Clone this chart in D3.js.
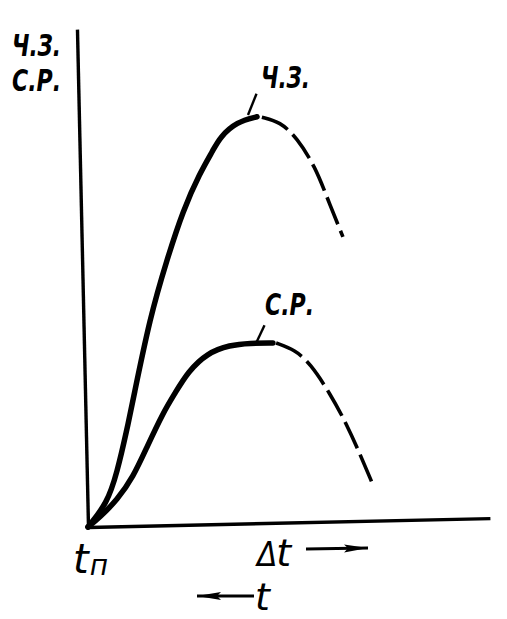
<!DOCTYPE html>
<html>
<head>
<meta charset="utf-8">
<script src="https://cdn.jsdelivr.net/npm/d3@7"></script>
<style>
  body { margin: 0; background: #fff; }
  text { fill: #000; }
</style>
</head>
<body>
<div id="chart"></div>
<script>
// Ч.З. and С.Р. versus time after t_п (arbitrary units)
const chzSolid = [[0, 0], [4.9, 4.7], [7.5, 10.7], [10.2, 19.3], [11.9, 25.3], [16.6, 41.9], [21.1, 53.3],
                  [25.4, 63.2], [29.8, 70.6], [33.2, 75.1], [35.0, 77.7], [39.3, 80.7], [44.3, 81.6]];
const chzDashed = [[45.5, 81.5], [50.0, 80.5], [54.1, 77.2], [58.5, 71.3], [61.3, 65.0], [65.0, 57.1]];
const srSolid = [[0, 0], [3.0, 1.9], [7.4, 5.3], [11.5, 9.8], [15.1, 15.8], [19.3, 22.6], [22.4, 26.5],
                 [25.7, 30.7], [30.6, 34.4], [36.3, 35.9], [41.3, 36.2], [47.0, 36.1]];
const srDashed = [[47.8, 36.1], [52.5, 34.6], [56.1, 31.9], [60.9, 25.8], [65.0, 19.3], [68.1, 13.3], [70.9, 7.6]];
const axisLabels = ["Ч.З.", "С.Р."];

const width = 507, height = 619;
const origin = {x: 88, y: 527};

const svg = d3.select("#chart").append("svg")
    .attr("width", width)
    .attr("height", height);
svg.append("rect").attr("width", width).attr("height", height).attr("fill", "#fff");

// the scan is tilted a little, so the plot frame is rotated round the origin
const g = svg.append("g")
    .attr("transform", "translate(" + origin.x + "," + origin.y + ") rotate(-1.27)");

const x = d3.scaleLinear().domain([0, 100]).range([0, 402]);
const y = d3.scaleLinear().domain([0, 100]).range([0, -498]);

// axes: only the domain lines, no ticks
g.append("g")
    .call(d3.axisBottom(x).ticks(0).tickSizeOuter(0))
    .call(a => a.select(".domain").attr("stroke", "#000").attr("stroke-width", 3.4));
g.append("g")
    .call(d3.axisLeft(y).ticks(0).tickSizeOuter(0))
    .call(a => a.select(".domain").attr("stroke", "#000").attr("stroke-width", 3.4));

// basis smooths out the reading noise of the hand-drawn curves
const line = d3.line()
    .x(d => x(d[0]))
    .y(d => y(d[1]))
    .curve(d3.curveBasis);

function drawCurve(data, solid) {
    g.append("path").datum(data).attr("d", line)
        .attr("fill", "none").attr("stroke", "#000")
        .attr("stroke-width", solid ? 5.5 : 3.6)
        .attr("stroke-linecap", solid ? "round" : "butt")
        .attr("stroke-dasharray", solid ? null : "29,7");
}
drawCurve(chzSolid, true);
drawCurve(chzDashed, false);
drawCurve(srSolid, true);
drawCurve(srDashed, false);

// leader lines to the curve labels, anchored on the end of the solid part
function leader(pt, x1, y1, x2, y2) {
    g.append("line")
        .attr("x1", x(pt[0]) + x1).attr("y1", y(pt[1]) + y1)
        .attr("x2", x(pt[0]) + x2).attr("y2", y(pt[1]) + y2)
        .attr("stroke", "#000").attr("stroke-width", 2.4);
}
leader(chzSolid[chzSolid.length - 1], -9, -2, 0, -23);
leader(srSolid[srSolid.length - 1], -16, -2, -8, -18);

const labelFont = "'DejaVu Sans Condensed', 'DejaVu Sans', sans-serif";
function label(txt, tx, ty) {
    svg.append("text")
        .attr("x", tx).attr("y", ty)
        .attr("font-family", labelFont)
        .attr("font-style", "italic")
        .attr("font-weight", "bold")
        .attr("font-size", 31)
        .attr("textLength", 49)
        .attr("lengthAdjust", "spacingAndGlyphs")
        .text(txt);
}
// y axis title, two lines
label(axisLabels[0], 12, 56);
label(axisLabels[1], 12, 91);
// curve labels
label(axisLabels[0], 261, 88);
label(axisLabels[1], 265, 315);

// time labels under the x axis
const tFont = "'DejaVu Sans', sans-serif";
const tn = svg.append("text").attr("x", 73).attr("y", 573)
    .attr("font-family", tFont).attr("font-style", "italic").attr("font-size", 40);
tn.append("tspan").text("t");
tn.append("tspan").attr("font-size", 28).attr("dy", 2).attr("dx", 1).text("п");

const dt = svg.append("text").attr("x", 257).attr("y", 566)
    .attr("font-family", tFont).attr("font-style", "italic").attr("font-size", 38);
dt.append("tspan").attr("font-family", "'DejaVu Sans Condensed', sans-serif")
    .attr("font-size", 33).text("Δ");
dt.append("tspan").attr("dx", -1).text("t");

svg.append("text").attr("x", 255).attr("y", 610)
    .attr("font-family", tFont).attr("font-style", "italic").attr("font-size", 38)
    .text("t");

// arrows
svg.append("defs").append("marker")
    .attr("id", "head").attr("viewBox", "0 0 24 10")
    .attr("refX", 24).attr("refY", 5)
    .attr("markerWidth", 24).attr("markerHeight", 10)
    .attr("markerUnits", "userSpaceOnUse")
    .attr("orient", "auto")
    .append("path").attr("d", "M0,1 L24,5 L0,9 L4,5 Z").attr("fill", "#000");

svg.append("line").attr("x1", 306).attr("y1", 549).attr("x2", 368).attr("y2", 548)
    .attr("stroke", "#000").attr("stroke-width", 2.8).attr("marker-end", "url(#head)");
svg.append("line").attr("x1", 254).attr("y1", 596).attr("x2", 197).attr("y2", 596)
    .attr("stroke", "#000").attr("stroke-width", 2.8).attr("marker-end", "url(#head)");
</script>
</body>
</html>
